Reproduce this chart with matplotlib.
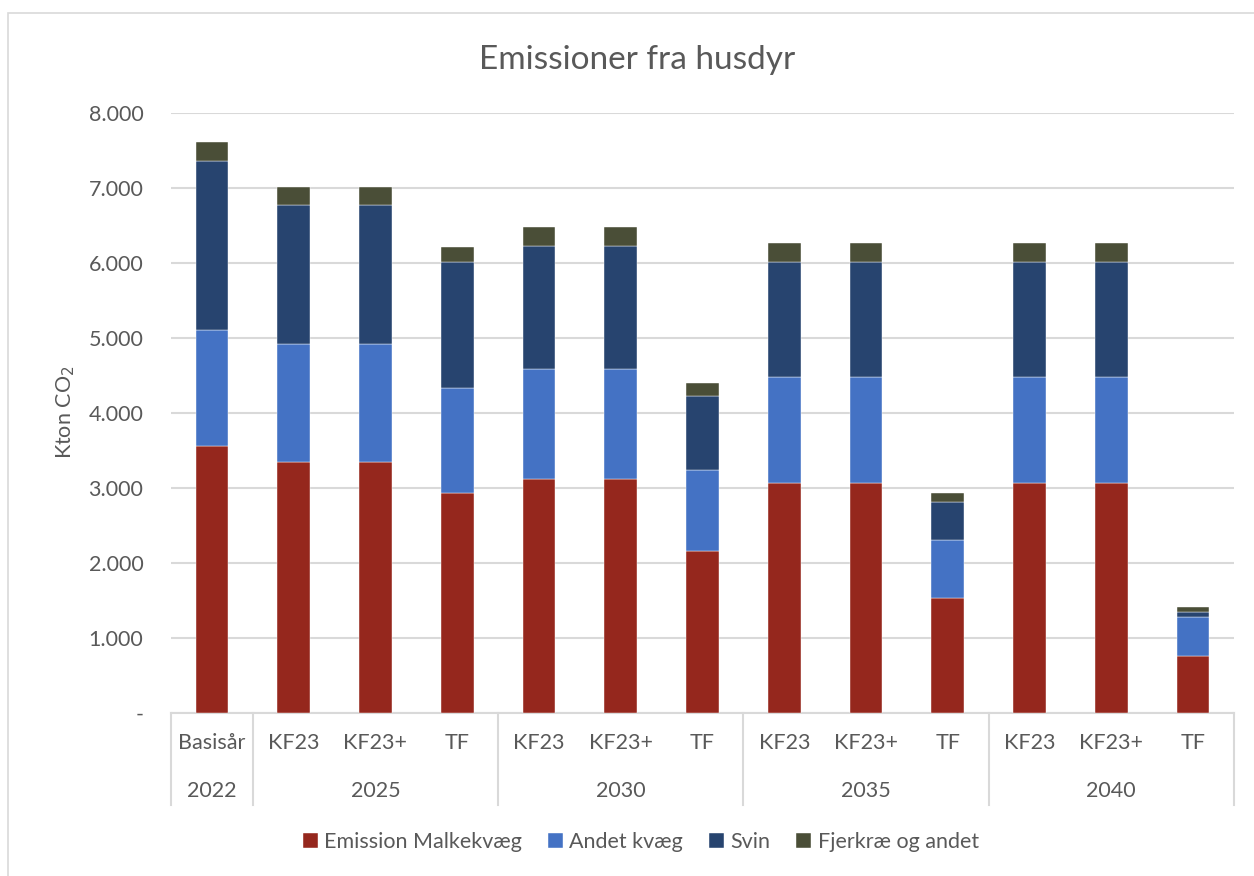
import numpy as np
import matplotlib.pyplot as plt
from matplotlib.transforms import blended_transform_factory
from matplotlib.patches import Rectangle

plt.rcParams['font.family'] = ['Lato', 'DejaVu Sans']

# ---------- DATA (kton CO2) ----------
scenarios = ['Basisår', 'KF23', 'KF23+', 'TF', 'KF23', 'KF23+', 'TF',
             'KF23', 'KF23+', 'TF', 'KF23', 'KF23+', 'TF']
years = ['2022', '2025', '2030', '2035', '2040']
group_sizes = [1, 3, 3, 3, 3]

malkekvaeg = [3556, 3339, 3339, 2925, 3112, 3112, 2152, 3067, 3067, 1525, 3067, 3067, 760]
andet_kvaeg = [1547, 1577, 1577, 1408, 1467, 1467, 1084, 1409, 1409, 774, 1409, 1409, 512]
svin = [2253, 1849, 1849, 1670, 1648, 1648, 991, 1537, 1537, 506, 1537, 1537, 75]
fjerkrae = [249, 248, 248, 206, 245, 245, 165, 246, 246, 120, 246, 246, 62]

series = [
    ('Emission Malkekvæg', malkekvaeg, '#95271d'),
    ('Andet kvæg', andet_kvaeg, '#4472c4'),
    ('Svin', svin, '#27446f'),
    ('Fjerkræ og andet', fjerkrae, '#4a4e37'),
]

TXT = '#595959'
GRID = '#d9d9d9'
FS = 15.5

fig = plt.figure(figsize=(12.54, 8.76), dpi=100)
ax = fig.add_axes([0.1364, 0.1864, 0.8476, 0.685])

# ---------- BARS ----------
x = np.arange(len(scenarios))
bottom = np.zeros(len(scenarios))
for name, vals, col in series:
    vals = np.array(vals, dtype=float)
    ax.bar(x, vals, width=0.4, bottom=bottom, color=col, label=name,
           edgecolor='#ffffff', linewidth=0.3, zorder=3)
    bottom += vals

# ---------- AXES ----------
ax.set_xlim(-0.5, len(scenarios) - 0.5)
ax.set_ylim(0, 8000)
ax.set_yticks(np.arange(0, 8001, 1000))
ax.set_yticklabels(['-' if v == 0 else f'{v:,}'.replace(',', '.') for v in range(0, 8001, 1000)],
                   fontsize=FS, color=TXT)
ax.tick_params(axis='y', length=0, pad=20)
ax.set_xticks([])
ax.yaxis.grid(True, color=GRID, linewidth=1.5, zorder=0)
for s in ['left', 'right', 'top']:
    ax.spines[s].set_visible(False)
ax.spines['bottom'].set_color(GRID)
ax.spines['bottom'].set_linewidth(1.5)

ax.set_ylabel('Kton CO$_2$', fontsize=FS, color=TXT, labelpad=8)
fig.suptitle('Emissioner fra husdyr', x=0.508, y=0.931, va='center',
             fontsize=24, color=TXT)

# ---------- MULTI-LEVEL CATEGORY AXIS ----------
trans = blended_transform_factory(ax.transData, ax.transAxes)
for xi, lab in zip(x, scenarios):
    ax.text(xi, -0.05, lab, transform=trans, ha='center', va='center',
            fontsize=FS, color=TXT)

start = 0
edges = [-0.5]
for yr, n in zip(years, group_sizes):
    mid = start + (n - 1) / 2
    ax.text(mid, -0.131, yr, transform=trans, ha='center', va='center',
            fontsize=FS, color=TXT)
    start += n
    edges.append(start - 0.5)
for e in edges:
    ax.plot([e, e], [0, -0.153], transform=trans, color=GRID, linewidth=1.5,
            clip_on=False)

# ---------- LEGEND ----------
fig.legend(loc='center', bbox_to_anchor=(0.511, 0.039), ncol=4, frameon=False,
           fontsize=FS, labelcolor=TXT, handlelength=0.7, handleheight=0.7,
           handletextpad=0.3, columnspacing=1.2)

# chart frame
fig.patches.append(Rectangle((8 / 1254, -0.01), 1.1, (876 - 13) / 876 + 0.01,
                             transform=fig.transFigure, fill=False,
                             edgecolor=GRID, linewidth=1.2))

fig.savefig('out.png', dpi=100)
